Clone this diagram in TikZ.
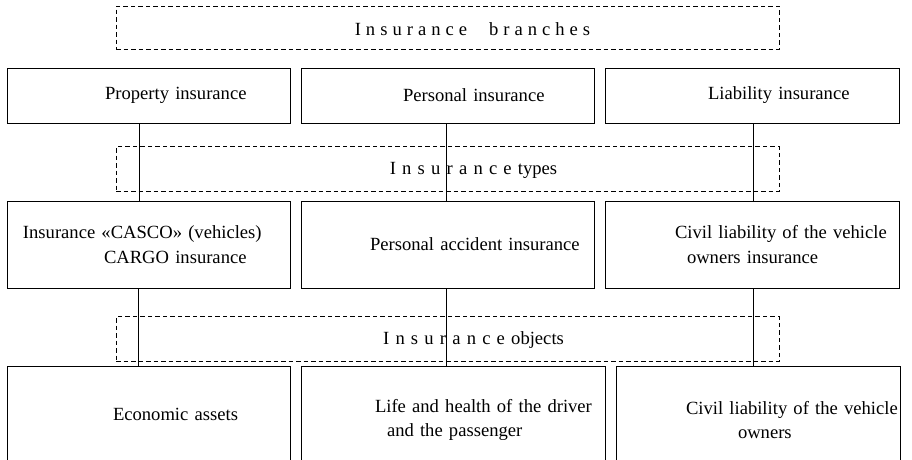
\documentclass[tikz,border=0pt]{standalone}
\usepackage{fontspec}
\setmainfont{Liberation Serif}
\usetikzlibrary{calc}

\begin{document}
\begin{tikzpicture}[x=1pt, y=-1pt, line width=0.9pt,
  box/.style={draw, rectangle, inner sep=0pt, align=left, font=\fontsize{18.6}{24.5}\selectfont},
  group/.style={draw, dashed, dash pattern=on 4.5pt off 3pt, rectangle, inner sep=0pt, minimum width=663pt, minimum height=45pt},
  grouptext/.style={inner sep=0pt, font=\fontsize{18.6}{24.5}\selectfont}]
\useasboundingbox (0,0) rectangle (912,459);
\clip (0,0) rectangle (912,459);
\node[group, minimum height=43pt] (g1) at (447.5,27.5) {};
\node[group] (g2) at (447.5,169) {};
\node[group] (g3) at (447.5,339) {};
\node[grouptext] (t1) at (472.5,29) {\spaceskip=5pt I n s u r a n c e\hspace{22pt}b r a n c h e s};
\node[grouptext] (t2) at (473.5,170) {\spaceskip=6.2pt I n s u r a n c e types};
\node[grouptext] (t3) at (473.5,340) {\spaceskip=6.2pt I n s u r a n c e objects};
\node[box, text width=283pt, minimum height=55pt] (b1) at (148.5,95.5) {\hspace*{98pt}Property insurance};
\node[box, text width=293pt, minimum height=55pt] (b2) at (447.5,95.5) {\hspace*{102pt}Personal insurance};
\node[box, text width=294pt, minimum height=55pt] (b3) at (752,95.5) {\hspace*{103pt}Liability insurance};
\node[box, text width=283pt, minimum height=87pt] (k1) at (148.5,244.5) {\hspace*{16pt}Insurance «CASCO» (vehicles)\\\hspace*{97pt}CARGO insurance};
\node[box, text width=293pt, minimum height=87pt] (k2) at (447.5,244.5) {\hspace*{69pt}Personal accident insurance};
\node[box, text width=294pt, minimum height=87pt] (k3) at (752,244.5) {\hspace*{70pt}Civil liability of the vehicle\\\hspace*{82pt}owners insurance};
\node[box, text width=283pt, minimum height=96pt] (o1) at (148.5,414) {\hspace*{106pt}Economic assets};
\node[box, text width=304pt, minimum height=108pt] (o2) at (453,420) {\hspace*{74pt}Life and health of the driver\\\hspace*{86pt}and the passenger};
\node[box, text width=284pt, minimum height=108pt] (o3) at (758,420) {\hspace*{70pt}Civil liability of the vehicle\\\hspace*{122pt}owners};
\draw ([xshift=-9.5pt]b1.south) -- ([xshift=-9.5pt]k1.north);
\draw ([xshift=-1.5pt]b2.south) -- ([xshift=-1.5pt]k2.north);
\draw ([xshift=1pt]b3.south) -- ([xshift=1pt]k3.north);
\draw ([xshift=-10.5pt]k1.south) -- ([xshift=-10.5pt]o1.north);
\draw ([xshift=-1.5pt]k2.south) -- ([xshift=-7pt]o2.north);
\draw ([xshift=1pt]k3.south) -- ([xshift=-5pt]o3.north);
\end{tikzpicture}
\end{document}
